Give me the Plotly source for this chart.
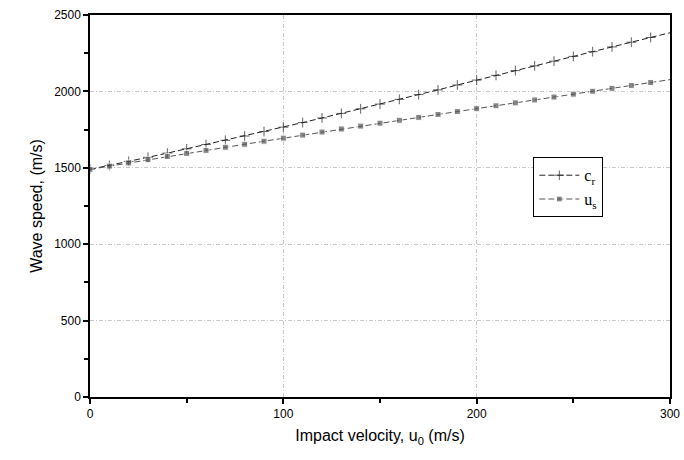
import plotly.graph_objects as go

u0 = [0, 10, 20, 30, 40, 50, 60, 70, 80, 90, 100, 110, 120, 130, 140, 150, 160, 170, 180, 190,
      200, 210, 220, 230, 240, 250, 260, 270, 280, 290, 300]
c_r = [1490, 1515, 1542, 1569, 1596, 1624, 1652, 1680, 1708, 1737, 1766, 1796, 1826, 1856, 1886,
       1917, 1948, 1979, 2010, 2042, 2074, 2105, 2136, 2167, 2198, 2229, 2260, 2291, 2322, 2353, 2384]
u_s = [1490, 1511, 1532, 1553, 1574, 1594, 1614, 1634, 1654, 1674, 1694, 1714, 1734, 1754, 1773,
       1792, 1811, 1830, 1849, 1868, 1887, 1906, 1925, 1944, 1963, 1982, 2001, 2020, 2039, 2058, 2077]
x_ticks = [0, 100, 200, 300]
y_ticks = [0, 500, 1000, 1500, 2000, 2500]

msize_cr = [7] * (len(u0) - 1) + [0]
msize_us = [6] * (len(u0) - 1) + [0]

fig = go.Figure()
fig.add_trace(go.Scatter(
    x=u0, y=c_r, mode="lines+markers", name="c<sub>r</sub>",
    line=dict(color="#222222", width=1, dash="6px,3px"),
    marker=dict(symbol="cross-thin", size=msize_cr, line=dict(color="#222222", width=1), color="#222222"),
))
fig.add_trace(go.Scatter(
    x=u0, y=u_s, mode="lines+markers", name="u<sub>s</sub>",
    line=dict(color="#555555", width=1, dash="6px,3px"),
    marker=dict(symbol="square", size=msize_us, color="#555555"),
))

axis_common = dict(
    showline=True, linecolor="black", linewidth=1.5, mirror=True,
    ticks="outside", ticklen=5, tickwidth=1.5, tickcolor="black",
    showgrid=True, gridcolor="#c8c8c8", griddash="4px,2px,1px,2px", gridwidth=1,
    zeroline=False, automargin=False,
    tickfont=dict(family="Liberation Sans, Arial", size=12, color="black"),
)

fig.update_xaxes(
    range=[0, 300], tickvals=x_ticks,
    minor=dict(dtick=50, ticks="outside", ticklen=4, tickwidth=1.5, tickcolor="black", showgrid=False),
    title=dict(text="Impact velocity, u<sub>0</sub> (m/s)", font=dict(family="Liberation Sans, Arial", size=16, color="black"), standoff=10),
    **axis_common,
)
fig.update_yaxes(
    range=[0, 2500], tickvals=y_ticks,
    minor=dict(dtick=250, ticks="outside", ticklen=4, tickwidth=1.5, tickcolor="black", showgrid=False),
    title=dict(text="Wave speed, (m/s)", font=dict(family="Liberation Sans, Arial", size=16, color="black"), standoff=8),
    **axis_common,
)

fig.update_layout(
    width=684, height=460,
    margin=dict(l=90, r=14, t=15, b=63),
    paper_bgcolor="white", plot_bgcolor="white",
    legend=dict(
        x=0.764, y=0.628, xanchor="left", yanchor="top",
        bordercolor="black", borderwidth=1.2, bgcolor="white",
        font=dict(family="Liberation Serif, Times New Roman", size=16, color="black"),
        tracegroupgap=0, itemwidth=40,
    ),
)

fig.write_html(
    "out.html",
    config={"displayModeBar": False},
    post_script="document.body.style.margin='0';document.body.style.overflow='hidden';",
)
